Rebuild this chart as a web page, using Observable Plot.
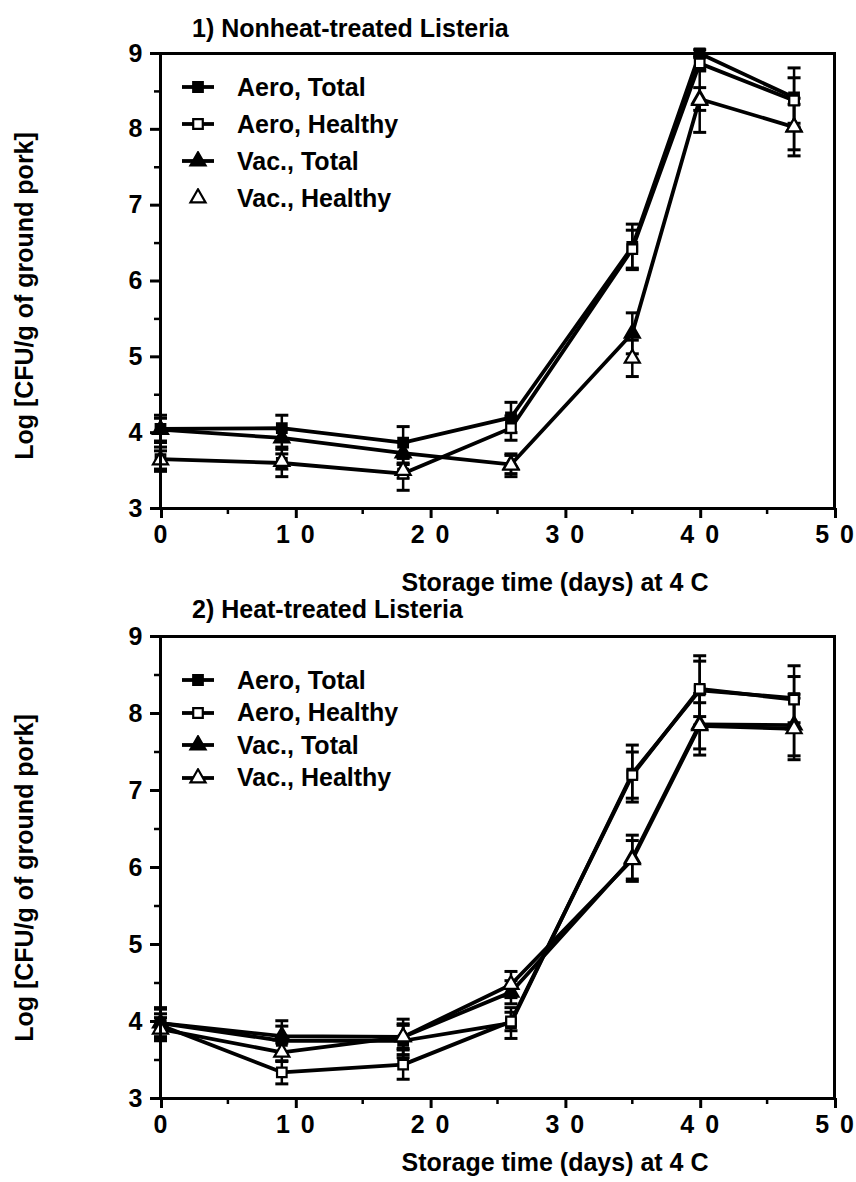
<!DOCTYPE html>
<html>
<head>
<meta charset="utf-8">
<script src="https://cdn.jsdelivr.net/npm/d3@7"></script>
<script src="https://cdn.jsdelivr.net/npm/@observablehq/plot@0.6"></script>
<style>
  body { margin: 0; background: #fff; }
  #page { position: relative; width: 856px; height: 1182px; font-family: "Liberation Sans", Arial, Helvetica, sans-serif; font-weight: bold; color: #000; background: #fff; }
  .abs { position: absolute; white-space: nowrap; }
  .ptitle { font-size: 25px; line-height: 28px; }
  .xtitle { font-size: 25px; line-height: 28px; transform: translateX(-50%); }
  .ytitle { font-size: 25px; line-height: 28px; transform: translate(-50%, -50%) rotate(-90deg); }
  .legend { font-size: 25px; }
  .legend .row { display: flex; align-items: center; }
  .legend .row svg { flex: none; margin-right: 17px; }
  g[aria-label="x-axis tick label"] text { letter-spacing: 2px; }
</style>
</head>
<body>
<div id="page"></div>
<script>
// ---- data ----
const days = [0, 9, 18, 26, 35, 40, 47];
const seriesNames = ["Aero, Total", "Aero, Healthy", "Vac., Total", "Vac., Healthy"];
const xMajor = [0, 10, 20, 30, 40, 50];
const xMinor = [5, 15, 25, 35, 45];
const yMajor = [3, 4, 5, 6, 7, 8, 9];
const yMinor = [3.5, 4.5, 5.5, 6.5, 7.5, 8.5];

// Panel 1: nonheat-treated Listeria (mean log CFU/g)
const p1AeroTotal   = [4.05, 4.06, 3.87, 4.20, 6.45, 9.00, 8.42];
const p1AeroHealthy = [3.65, 3.60, 3.46, 4.06, 6.42, 8.87, 8.38];
const p1VacTotal    = [4.04, 3.93, 3.73, 3.58, 5.31, 8.40, 8.03];
const p1VacHealthy  = [3.64, 3.62, 3.50, 3.57, 4.98, 8.38, 8.03];
// error bar half-lengths
const p1AeroTotalErr   = [0.18, 0.17, 0.21, 0.20, 0.30, 0.05, 0.39];
const p1AeroHealthyErr = [0.16, 0.18, 0.22, 0.16, 0.25, 0.10, 0.30];
const p1VacTotalErr    = [0.15, 0.12, 0.15, 0.12, 0.27, 0.15, 0.30];
const p1VacHealthyErr  = [0.12, 0.10, 0.10, 0.15, 0.24, 0.42, 0.38];

// Panel 2: heat-treated Listeria
const p2AeroTotal   = [3.98, 3.75, 3.75, 3.98, 7.22, 8.30, 8.20];
const p2AeroHealthy = [3.95, 3.34, 3.44, 4.00, 7.20, 8.32, 8.18];
const p2VacTotal    = [3.98, 3.81, 3.80, 4.38, 6.12, 7.86, 7.85];
const p2VacHealthy  = [3.90, 3.60, 3.80, 4.48, 6.10, 7.84, 7.80];
const p2AeroTotalErr   = [0.20, 0.19, 0.22, 0.20, 0.37, 0.45, 0.42];
const p2AeroHealthyErr = [0.15, 0.15, 0.19, 0.12, 0.30, 0.36, 0.30];
const p2VacTotalErr    = [0.18, 0.20, 0.23, 0.15, 0.30, 0.40, 0.40];
const p2VacHealthyErr  = [0.15, 0.12, 0.15, 0.17, 0.25, 0.30, 0.40];

const titles = ["1) Nonheat-treated Listeria", "2) Heat-treated Listeria"];
const xLabel = "Storage time (days) at 4 C";
const yLabel = "Log [CFU/g of ground pork]";

// ---- build tables ----
function table(valuesList, errList) {
  const rows = [];
  seriesNames.forEach((s, i) => {
    days.forEach((d, j) => rows.push({series: s, day: d, value: valuesList[i][j], err: errList[i][j]}));
  });
  return rows;
}
const rows1 = table([p1AeroTotal, p1AeroHealthy, p1VacTotal, p1VacHealthy],
                    [p1AeroTotalErr, p1AeroHealthyErr, p1VacTotalErr, p1VacHealthyErr]);
const rows2 = table([p2AeroTotal, p2AeroHealthy, p2VacTotal, p2VacHealthy],
                    [p2AeroTotalErr, p2AeroHealthyErr, p2VacTotalErr, p2VacHealthyErr]);

const styleOf = {
  "Aero, Total":   {symbol: "square",   fill: "black"},
  "Aero, Healthy": {symbol: "square",   fill: "white"},
  "Vac., Total":   {symbol: "triangle", fill: "black"},
  "Vac., Healthy": {symbol: "triangle", fill: "white"}
};
const capSymbol = { draw(ctx) { ctx.moveTo(-6.5, 0); ctx.lineTo(6.5, 0); } };
const FONT = '"Liberation Sans", Arial, Helvetica, sans-serif';
// spaced digits as in the original typesetting ("1 0", "2 0" ...)
const spacedFormat = d => d3.format("d")(d).split("").join(" ");

function panel(rows, lineSeries, innerHeight) {
  const marks = [
    Plot.axisX({ticks: xMinor, tickSize: 6, tickFormat: () => "", label: null, strokeWidth: 2.5}),
    Plot.axisX({ticks: xMajor, tickSize: 10, tickPadding: 7, tickFormat: spacedFormat, label: null, fontSize: 25, fontWeight: "bold", strokeWidth: 3, dx: 1}),
    Plot.axisY({ticks: yMinor, tickSize: 6, tickFormat: () => "", label: null, strokeWidth: 2.5}),
    Plot.axisY({ticks: yMajor, tickSize: 10, tickPadding: 8, tickFormat: d3.format("d"), label: null, fontSize: 25, fontWeight: "bold", strokeWidth: 3}),
    Plot.line(rows.filter(d => lineSeries.includes(d.series)), {x: "day", y: "value", z: "series", stroke: "black", strokeWidth: 3.8}),
    Plot.ruleX(rows, {x: "day", y1: d => d.value - d.err, y2: d => d.value + d.err, stroke: "black", strokeWidth: 2.5}),
    Plot.dot(rows, {x: "day", y: d => d.value + d.err, symbol: capSymbol, stroke: "black", strokeWidth: 3, fill: "none"}),
    Plot.dot(rows, {x: "day", y: d => d.value - d.err, symbol: capSymbol, stroke: "black", strokeWidth: 3, fill: "none"}),
  ];
  seriesNames.forEach(s => {
    const st = styleOf[s];
    marks.push(Plot.dot(rows.filter(d => d.series === s), {
      x: "day", y: "value", symbol: st.symbol, fill: st.fill, stroke: "black", strokeWidth: 2.2,
      r: st.symbol === "square" ? 5.4 : 5.6
    }));
  });
  marks.push(Plot.frame({stroke: "black", strokeWidth: 3}));
  return Plot.plot({
    width: 856,
    height: 53 + innerHeight + 52,
    marginTop: 53, marginBottom: 52, marginLeft: 160, marginRight: 22,
    x: {domain: [0, 50]},
    y: {domain: [3, 9]},
    style: {fontFamily: FONT, fontWeight: "bold", fontSize: "25px", color: "black", background: "none", overflow: "visible"},
    marks
  });
}

const page = document.getElementById("page");
function addAbs(el, left, top) {
  el.classList.add("abs");
  el.style.left = left + "px";
  el.style.top = top + "px";
  page.appendChild(el);
  return el;
}
function textDiv(cls, txt, left, top) {
  const d = document.createElement("div");
  d.className = cls;
  d.textContent = txt;
  return addAbs(d, left, top);
}
function legend(left, firstCenter, rowH, noLineSeries) {
  const box = document.createElement("div");
  box.className = "legend";
  seriesNames.forEach(s => {
    const st = styleOf[s];
    const row = document.createElement("div");
    row.className = "row";
    row.style.height = rowH + "px";
    const svg = d3.create("svg").attr("width", 40).attr("height", 20);
    if (!noLineSeries.includes(s)) {
      svg.append("line").attr("x1", 2).attr("x2", 34).attr("y1", 10).attr("y2", 10)
        .attr("stroke", "black").attr("stroke-width", 3.8);
    }
    const r = st.symbol === "square" ? 5.4 : 5.6;
    const type = st.symbol === "square" ? d3.symbolSquare : d3.symbolTriangle;
    svg.append("path").attr("transform", "translate(18,10)")
      .attr("d", d3.symbol(type, Math.PI * r * r)())
      .attr("fill", st.fill).attr("stroke", "black").attr("stroke-width", 2.2);
    row.appendChild(svg.node());
    const t = document.createElement("span");
    t.textContent = s;
    row.appendChild(t);
    box.appendChild(row);
  });
  return addAbs(box, left, firstCenter - rowH / 2);
}

// Charts first, texts on top
const svg1 = panel(rows1, ["Aero, Total", "Aero, Healthy", "Vac., Total"], 455);
addAbs(svg1, 0, 0);
const svg2 = panel(rows2, seriesNames, 462);
addAbs(svg2, 0, 583);

// Panel 1 texts
textDiv("ptitle", titles[0], 192, 14);
textDiv("xtitle", xLabel, 555, 568);
textDiv("ytitle", yLabel, 24, 296);
legend(180, 87, 37, ["Vac., Healthy"]);

// Panel 2 texts
textDiv("ptitle", titles[1], 192, 595);
textDiv("xtitle", xLabel, 555, 1148);
textDiv("ytitle", yLabel, 24, 878);
legend(180, 680, 32.5, []);
</script>
</body>
</html>
